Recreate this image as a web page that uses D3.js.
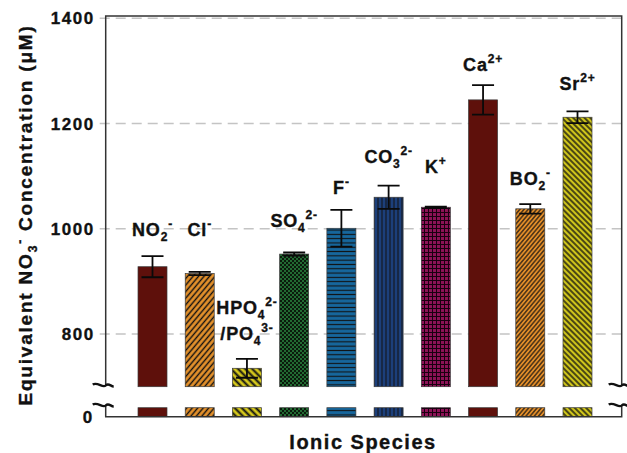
<html>
<head>
    <meta charset="utf-8">
    <style>
        body { margin: 0; background: white; font-family: "Liberation Sans", Arial, sans-serif; }
        svg text { font-weight: bold; fill: #111; stroke: #111; stroke-width: 0.35px; }
    </style>
    <script src="https://d3js.org/d3.v7.min.js"></script>
</head>
<body>
    <svg id="Chart"></svg>
</body>
<script>
    // DATA
    let categories = ["NO2-", "Cl-", "HPO4/PO4", "SO4", "F-", "CO3", "K+", "Ca2+", "BO2-", "Sr2+"]
    let values = [928, 915, 735, 952, 1001, 1060, 1041, 1245, 1038, 1212]
    let errors = [20, 3, 18, 3, 35, 22, 1, 28, 9, 11]
    // value (in axis units) where each bar label sits
    let labelLevels = [986, 986, 838, 1003, 1066, 1125, 1106, 1300, 1083, 1264]
    // label pieces: [text, kind] with kind "", "sub" or "sup"; one list per line
    let labelLines = [
        [[["NO", ""], ["2", "sub"], ["-", "sup"]]],
        [[["Cl", ""], ["-", "sup"]]],
        [[["HPO", ""], ["4", "sub"], ["2-", "sup"]], [["/PO", ""], ["4", "sub"], ["3-", "sup"]]],
        [[["SO", ""], ["4", "sub"], ["2-", "sup"]]],
        [[["F", ""], ["-", "sup"]]],
        [[["CO", ""], ["3", "sub"], ["2-", "sup"]]],
        [[["K", ""], ["+", "sup"]]],
        [[["Ca", ""], ["2+", "sup"]]],
        [[["BO", ""], ["2", "sub"], ["-", "sup"]]],
        [[["Sr", ""], ["2+", "sup"]]]
    ]
    let upperTicks = [800, 1000, 1200, 1400]
    let lowerTicks = [0]
    let breakValue = 700

    // pattern for each bar
    let fills = ["solidRed", "hatchCl", "hatchHPO", "checkSO", "horizF", "vertCO", "gridK", "solidRed", "hatchBO", "hatchSr"]

    drawChart()

    function getConfig() {
        let width = 627
        let height = 453
        let left = 105.7
        let right = 621.7
        let top = 16
        let container = d3.select("#Chart")
            .attr("width", width)
            .attr("height", height)
        return { width, height, left, right, top, container }
    }

    function getScales(config) {
        let yUpper = d3.scaleLinear()
            .domain([breakValue, 1400])
            .range([386.7, 18.3])
        let yLower = d3.scaleLinear()
            .domain([0, 40])
            .range([416.7, 407.7])
        let xScale = d3.scalePoint()
            .domain(categories)
            .range([152.5, 577.5])
        return { yUpper, yLower, xScale }
    }

    function drawChart() {
        let config = getConfig()
        let scales = getScales(config)
        makePatterns(config.container)
        drawGrid(scales, config)
        drawBars(scales, config)
        drawAxes(scales, config)
        drawLabels(scales, config)
    }

    function makePatterns(svg) {
        let defs = svg.append("defs")

        function lines(id, bg, gap, angle, lw) {
            let p = defs.append("pattern")
                .attr("id", id)
                .attr("patternUnits", "userSpaceOnUse")
                .attr("width", gap).attr("height", gap)
                .attr("patternTransform", `rotate(${angle})`)
            p.append("rect").attr("width", gap).attr("height", gap).attr("fill", bg)
            p.append("line")
                .attr("x1", gap / 2).attr("x2", gap / 2)
                .attr("y1", 0).attr("y2", gap)
                .attr("stroke", "#111").attr("stroke-width", lw)
        }

        let solid = defs.append("pattern")
            .attr("id", "solidRed").attr("patternUnits", "userSpaceOnUse")
            .attr("width", 4).attr("height", 4)
        solid.append("rect").attr("width", 4).attr("height", 4).attr("fill", "#5e100b")

        lines("hatchCl", "#e4912b", 4.2, 40, 1.4)
        lines("hatchBO", "#e38e29", 3.2, 40, 1.1)
        lines("hatchHPO", "#d5c81c", 5, -45, 2)
        lines("hatchSr", "#cfc51b", 4, -45, 1.4)
        lines("vertCO", "#1c3f7a", 4, 0, 1)
        lines("horizF", "#16679d", 4.3, 90, 1.1)

        let grid = defs.append("pattern")
            .attr("id", "gridK").attr("patternUnits", "userSpaceOnUse")
            .attr("width", 4).attr("height", 4)
        grid.append("rect").attr("width", 4).attr("height", 4).attr("fill", "#8c1256")
        grid.append("path").attr("d", "M0,0.5H4M0.5,0V4")
            .attr("stroke", "#1a0010").attr("stroke-width", 1)

        let check = defs.append("pattern")
            .attr("id", "checkSO").attr("patternUnits", "userSpaceOnUse")
            .attr("width", 4).attr("height", 4)
        check.append("rect").attr("width", 4).attr("height", 4).attr("fill", "#226a32")
        check.append("path").attr("d", "M0,0h2v2h-2zM2,2h2v2h-2z")
            .attr("fill", "#0a1a0c")
    }

    function drawGrid(scales, config) {
        let { yUpper } = scales
        let { container, left, right } = config
        container.append("g").selectAll("line")
            .data(upperTicks)
            .enter().append("line")
            .attr("x1", left - 6)
            .attr("x2", right)
            .attr("y1", d => yUpper(d))
            .attr("y2", d => yUpper(d))
            .attr("stroke", "#c4c4c4")
            .attr("stroke-width", 1.4)
            .attr("stroke-dasharray", "10,6")
    }

    function drawBars(scales, config) {
        let { yUpper, yLower, xScale } = scales
        let { container } = config
        let barWidth = 29
        let data = categories.map((c, i) => ({ c, v: values[i], e: errors[i], fill: fills[i] }))
        let body = container.append("g")

        // upper segment, above the break
        body.selectAll(".bar")
            .data(data)
            .enter().append("rect")
            .attr("class", "bar")
            .attr("x", d => xScale(d.c) - barWidth / 2)
            .attr("width", barWidth)
            .attr("y", d => yUpper(d.v))
            .attr("height", d => yUpper(breakValue) - yUpper(d.v))
            .attr("fill", d => `url(#${d.fill})`)
            .attr("stroke", "#3a3a3a")
            .attr("stroke-width", 0.7)

        // lower segment, below the break
        body.selectAll(".lowbar")
            .data(data)
            .enter().append("rect")
            .attr("class", "lowbar")
            .attr("x", d => xScale(d.c) - barWidth / 2)
            .attr("width", barWidth)
            .attr("y", yLower(40))
            .attr("height", yLower(0) - yLower(40))
            .attr("fill", d => `url(#${d.fill})`)
            .attr("stroke", "#3a3a3a")
            .attr("stroke-width", 0.7)

        // error bars
        let capHalf = 11
        body.selectAll(".err")
            .data(data)
            .enter().append("path")
            .attr("class", "err")
            .attr("d", d => {
                let x = xScale(d.c)
                let y1 = yUpper(d.v + d.e)
                let y2 = yUpper(d.v - d.e)
                return `M${x - capHalf},${y1}H${x + capHalf}M${x},${y1}V${y2}M${x - capHalf},${y2}H${x + capHalf}`
            })
            .attr("fill", "none")
            .attr("stroke", "#0a0a0a")
            .attr("stroke-width", 1.8)
    }

    function drawAxes(scales, config) {
        let { yUpper, yLower } = scales
        let { container, left, right, top } = config
        let g = container.append("g")
        let stroke = "#333"

        let topBreak = 385.5
        let lowBreak = 405.5
        let base = yLower(0)

        // frame lines with gap for the break
        let frame = `M${left},${topBreak}V${top}H${right}V${topBreak}` +
            `M${left},${lowBreak}V${base}H${right}V${lowBreak}`
        g.append("path").attr("d", frame)
            .attr("fill", "none").attr("stroke", stroke).attr("stroke-width", 1.5)

        // break marks
        let tilde = (x, y) => `M${x - 13},${y - 1}C${x - 8},${y - 4} ${x - 3},${y + 3} ${x},${y}` +
            `C${x + 3},${y - 3} ${x + 5},${y + 1} ${x + 8},${y + 1}`
        ;[left, right].forEach(x => {
            ;[topBreak, lowBreak].forEach(y => {
                g.append("path").attr("d", tilde(x, y))
                    .attr("fill", "none").attr("stroke", "#111").attr("stroke-width", 2.4)
            })
        })

        let upperAxis = d3.axisLeft(yUpper)
            .tickValues(upperTicks)
            .tickSize(0)
            .tickPadding(11)
            .tickFormat(d3.format("d"))
        let lowerAxis = d3.axisLeft(yLower)
            .tickValues(lowerTicks)
            .tickSize(0)
            .tickPadding(12)

        ;[upperAxis, lowerAxis].forEach(ax => {
            let a = g.append("g")
                .attr("transform", `translate(${left},0)`)
                .call(ax)
            a.select(".domain").remove()
            a.selectAll("text")
                .style("font-size", "17px")
                .style("font-weight", "bold")
                .style("letter-spacing", "1.5px")
                .attr("fill", "#111")
        })

        // axis titles
        let title = g.append("text")
            .attr("transform", "translate(32,215) rotate(-90)")
            .attr("text-anchor", "middle")
            .style("font-size", "19px")
            .style("letter-spacing", "1.8px")
        title.append("tspan").text("Equivalent NO")
        title.append("tspan").text("3").attr("dy", 5).style("font-size", "12px")
        title.append("tspan").text("-").attr("dy", -13).style("font-size", "12px")
        title.append("tspan").text(" Concentration (\u03bcM)").attr("dy", 8)

        g.append("text")
            .attr("x", 363)
            .attr("y", 449)
            .attr("text-anchor", "middle")
            .style("font-size", "20px")
            .style("letter-spacing", "1.5px")
            .text("Ionic Species")
    }

    function drawLabels(scales, config) {
        let { yUpper, xScale } = scales
        let { container } = config
        let shifts = { "": 0, "sub": 5, "sup": -8 }
        let g = container.append("g")

        categories.forEach((c, i) => {
            labelLines[i].forEach((line, k) => {
                let text = g.append("text")
                    .attr("x", xScale(c))
                    .attr("y", yUpper(labelLevels[i]) + k * 26)
                    .attr("text-anchor", "middle")
                    .style("font-size", "18px")
                    .style("letter-spacing", "0.8px")
                let current = 0
                line.forEach(([t, kind]) => {
                    let target = shifts[kind]
                    text.append("tspan")
                        .text(t)
                        .attr("dy", target - current)
                        .style("font-size", kind ? "12px" : "18px")
                    current = target
                })
            })
        })
    }
</script>
</html>
